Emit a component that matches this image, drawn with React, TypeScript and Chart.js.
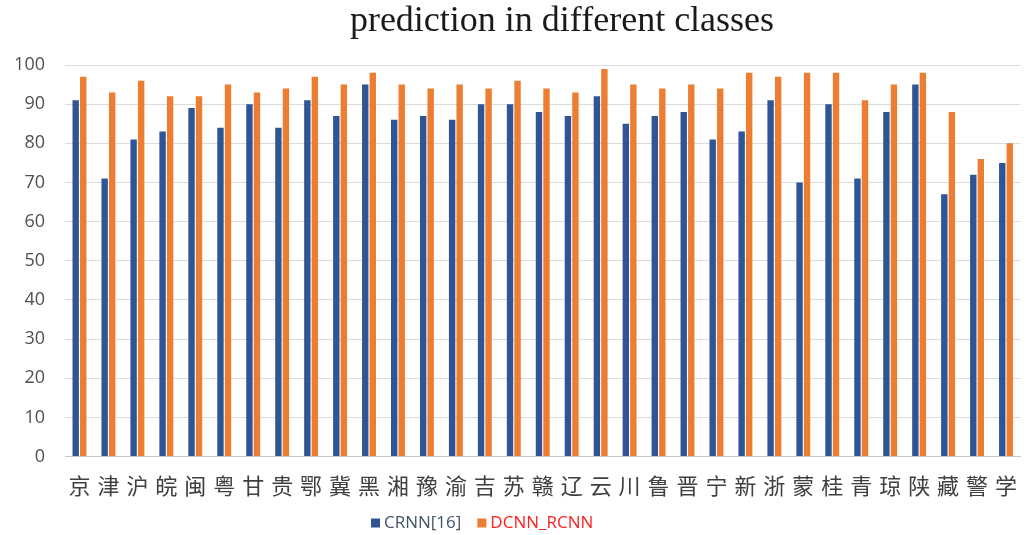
import React, { useEffect, useRef } from "react";
import { Chart, registerables } from "chart.js";

Chart.register(...registerables);

const categories = ["京","津","沪","皖","闽","粤","甘","贵","鄂","冀","黑","湘","豫","渝","吉","苏","赣","辽","云","川","鲁","晋","宁","新","浙","蒙","桂","青","琼","陕","藏","警","学"];
const crnnValues = [91,71,81,83,89,84,90,84,91,87,95,86,87,86,90,90,88,87,92,85,87,88,81,83,91,70,90,71,88,95,67,72,75];
const dcnnValues = [97,93,96,92,92,95,93,94,97,95,98,95,94,95,94,96,94,93,99,95,94,95,94,98,97,98,98,91,95,98,88,76,80];
const yTicks = [0,10,20,30,40,50,60,70,80,90,100];
const seriesNames = ["CRNN[16]", "DCNN_RCNN"];
const titleText = "prediction in different classes";

const W = 1033;
const H = 535;

const overlayPlugin = {
  id: "overlay",
  afterDraw(chart: any) {
    const ctx = chart.ctx;
    ctx.save();
    // title
    ctx.fillStyle = "#1a1a1a";
    ctx.font = '36px "Liberation Serif", serif';
    ctx.textAlign = "center";
    ctx.textBaseline = "middle";
    ctx.fillText(titleText, 562, 22);
    // legend
    ctx.font = '17px "Open Sans", sans-serif';
    ctx.textAlign = "left";
    const colors = ["#2F5597", "#ED7D31"];
    const textColors = ["#44546A", "#FF2020"];
    let x = 371;
    const y = 523;
    chart.data.datasets.forEach((ds: any, i: number) => {
      ctx.fillStyle = colors[i];
      ctx.fillRect(x, y - 4.5, 9, 9);
      x += 13;
      ctx.fillStyle = textColors[i];
      ctx.fillText(ds.label, x, y);
      x += ctx.measureText(ds.label).width + 16;
    });
    ctx.restore();
  },
};

export default function App() {
  const ref = useRef<HTMLCanvasElement>(null);
  useEffect(() => {
    if (!ref.current) return;
    const chart = new Chart(ref.current, {
      type: "bar",
      data: {
        labels: categories,
        datasets: [
          {
            label: seriesNames[0],
            data: crnnValues,
            backgroundColor: "#2F5597",
            categoryPercentage: 0.52,
            barPercentage: 0.85,
          },
          {
            label: seriesNames[1],
            data: dcnnValues,
            backgroundColor: "#ED7D31",
            categoryPercentage: 0.52,
            barPercentage: 0.85,
          },
        ],
      },
      options: {
        responsive: false,
        animation: false,
        layout: { padding: { top: 65, bottom: 20, left: 12, right: 0 } },
        plugins: {
          legend: { display: false },
          title: { display: false },
          tooltip: { enabled: false },
        },
        scales: {
          x: {
            grid: { display: false, drawTicks: false },
            border: { display: true, color: "#c8c8c8", width: 1 },
            ticks: {
              color: "#404040",
              padding: 16,
              font: { family: '"Noto Sans CJK SC", sans-serif', size: 22 },
              maxRotation: 0,
              autoSkip: false,
            },
          },
          y: {
            min: 0,
            max: 100,
            afterBuildTicks: (axis: any) => {
              axis.ticks = yTicks.map((v) => ({ value: v }));
            },
            afterFit: (axis: any) => {
              axis.width = 53;
            },
            grid: { color: "#dcdcdc", drawTicks: false, lineWidth: 1 },
            border: { display: false },
            ticks: {
              color: "#505050",
              padding: 20,
              font: { family: '"Open Sans", sans-serif', size: 18 },
            },
          },
        },
      },
      plugins: [overlayPlugin],
    });
    return () => chart.destroy();
  }, []);
  return (
    <div style={{ position: "absolute", left: 0, top: 0, width: W, height: H, background: "#fff" }}>
      <canvas ref={ref} width={W} height={H} />
    </div>
  );
}
